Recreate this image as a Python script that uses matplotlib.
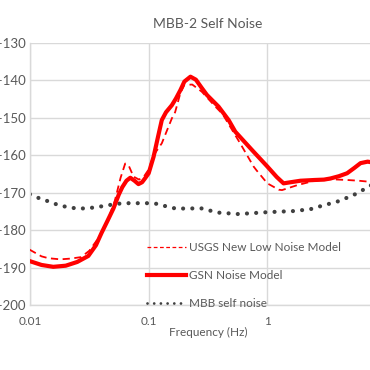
import matplotlib
matplotlib.use("Agg")
import matplotlib.pyplot as plt
from matplotlib.lines import Line2D

plt.rcParams['font.family'] = ['Lato', 'DejaVu Sans']

# USGS New Low Noise Model (dashed)
nlnm_f = [0.0099, 0.0125, 0.0143, 0.018, 0.022, 0.027, 0.0316, 0.038, 0.0457,
          0.052, 0.058, 0.0634, 0.068, 0.0745, 0.083, 0.092, 0.1, 0.11, 0.129,
          0.157, 0.167, 0.185, 0.2, 0.233, 0.28, 0.36, 0.42, 0.59, 0.766, 0.81,
          1.0, 1.25, 1.33, 1.78, 2.5, 3.4, 4.7, 5.9, 7.4, 10.0]
nlnm_db = [-185.2, -187.0, -187.5, -187.8, -187.6, -187.2, -185.5, -182.0, -177.0,
           -172.0, -166.0, -162.2, -162.8, -165.7, -166.5, -165.5, -163.8, -160.0, -156.8,
           -150.1, -148.5, -143.4, -141.2, -141.1, -143.0, -146.8, -149.0, -156.8, -163.0, -164.0,
           -167.5, -169.2, -169.3, -168.0, -166.8, -166.4, -166.6, -166.8, -167.1, -168.0]

# GSN noise model (thick solid)
gsn_f = [0.01, 0.0125, 0.0157, 0.02, 0.025, 0.031, 0.036, 0.04, 0.045, 0.0505,
         0.056, 0.06, 0.065, 0.07, 0.076, 0.082, 0.088, 0.093, 0.1, 0.11, 0.12,
         0.129, 0.14, 0.157, 0.17, 0.185, 0.2, 0.225, 0.25, 0.28, 0.31, 0.388,
         0.472, 0.537, 0.743, 1.0, 1.2, 1.37, 1.5, 1.9, 2.5, 3.0, 3.4, 4.0, 4.7,
         5.4, 6.1, 7.0, 8.0, 10.0]
gsn_db = [-188.3, -189.3, -189.8, -189.5, -188.5, -186.9, -184.0, -180.8, -177.5, -174.2,
          -170.5, -168.5, -166.8, -166.0, -166.8, -167.7, -167.2, -166.2, -164.8, -160.4, -155.0,
          -150.6, -148.5, -146.6, -144.8, -142.6, -140.3, -139.0, -139.8, -142.0, -143.9, -147.0,
          -150.6, -153.7, -158.6, -163.0, -165.8, -167.5, -167.3, -166.8, -166.6, -166.5, -166.2, -165.6, -164.8,
          -163.4, -162.1, -161.7, -162.0, -163.0]

# MBB self noise (dotted)
mbb_f = [0.01, 0.0126, 0.0147, 0.0173, 0.0211, 0.0248, 0.03, 0.0353, 0.043, 0.0505,
         0.061, 0.085, 0.1, 0.121, 0.142, 0.173, 0.203, 0.28, 0.38, 0.57, 1.0,
         1.67, 2.31, 2.6, 3.29, 3.87, 5.0, 5.35, 7.16, 10.0]
mbb_db = [-170.4, -171.8, -172.4, -173.3, -173.9, -174.2, -174.2, -173.9, -173.5, -173.1,
          -172.8, -172.8, -172.8, -173.0, -173.7, -174.3, -174.2, -174.2, -175.3, -175.7, -175.2,
          -174.9, -174.4, -173.9, -173.0, -172.4, -171.0, -170.6, -168.4, -165.5]

labels = ["USGS New Low Noise Model", "GSN Noise Model", "MBB self noise"]
txt = "#595959"
grid = "#d9d9d9"

fig = plt.figure(figsize=(3.7, 3.7), dpi=100)
ax = fig.add_axes([30 / 370, 65 / 370, 356 / 370, 262 / 370])

ax.plot(gsn_f, gsn_db, color="#ff0000", lw=3.0, solid_joinstyle="round", zorder=3)
ax.plot(nlnm_f, nlnm_db, color="#ff0000", lw=1.3, dashes=(4, 2.5), zorder=4)
ax.plot(mbb_f, mbb_db, color="#404040", lw=3.0, linestyle=(0, (0.01, 2.2)),
        dash_capstyle="round", zorder=2)

ax.set_xscale("log")
ax.set_xlim(0.01, 10)
ax.set_ylim(-200, -130)
ax.set_yticks(range(-200, -129, 10))
ax.set_xticks([0.01, 0.1, 1])
ax.set_xticklabels(["0.01", "0.1", "1"])
ax.minorticks_off()
ax.grid(True, color=grid, lw=1)
ax.set_axisbelow(True)
for s in ["top", "right"]:
    ax.spines[s].set_visible(False)
for s in ["left", "bottom"]:
    ax.spines[s].set_color(grid)
    ax.spines[s].set_linewidth(1)
ax.tick_params(length=0, labelcolor=txt)
ax.tick_params(axis="x", pad=8, labelsize=8.5)
ax.tick_params(axis="y", pad=3, labelsize=9.5)

ax.set_title("MBB-2 Self Noise", fontsize=10, color=txt, pad=11)
ax.set_xlabel("Frequency (Hz)", fontsize=8.5, color=txt, labelpad=0)

handles = [Line2D([], [], color="#ff0000", lw=0.9, dashes=(3, 2)),
           Line2D([], [], color="#ff0000", lw=3.0),
           Line2D([], [], color="#404040", lw=2.0, linestyle=(0, (0.01, 2.4)),
                  dash_capstyle="round")]
leg = ax.legend(handles, labels, loc="upper left", bbox_to_anchor=(141 / 370, 1 - 236 / 370),
                bbox_transform=fig.transFigure, frameon=False, fontsize=8.5,
                handlelength=3.3, handletextpad=0.3, labelspacing=1.45, borderpad=0)
for t in leg.get_texts():
    t.set_color(txt)

fig.savefig("out.png", dpi=100)
